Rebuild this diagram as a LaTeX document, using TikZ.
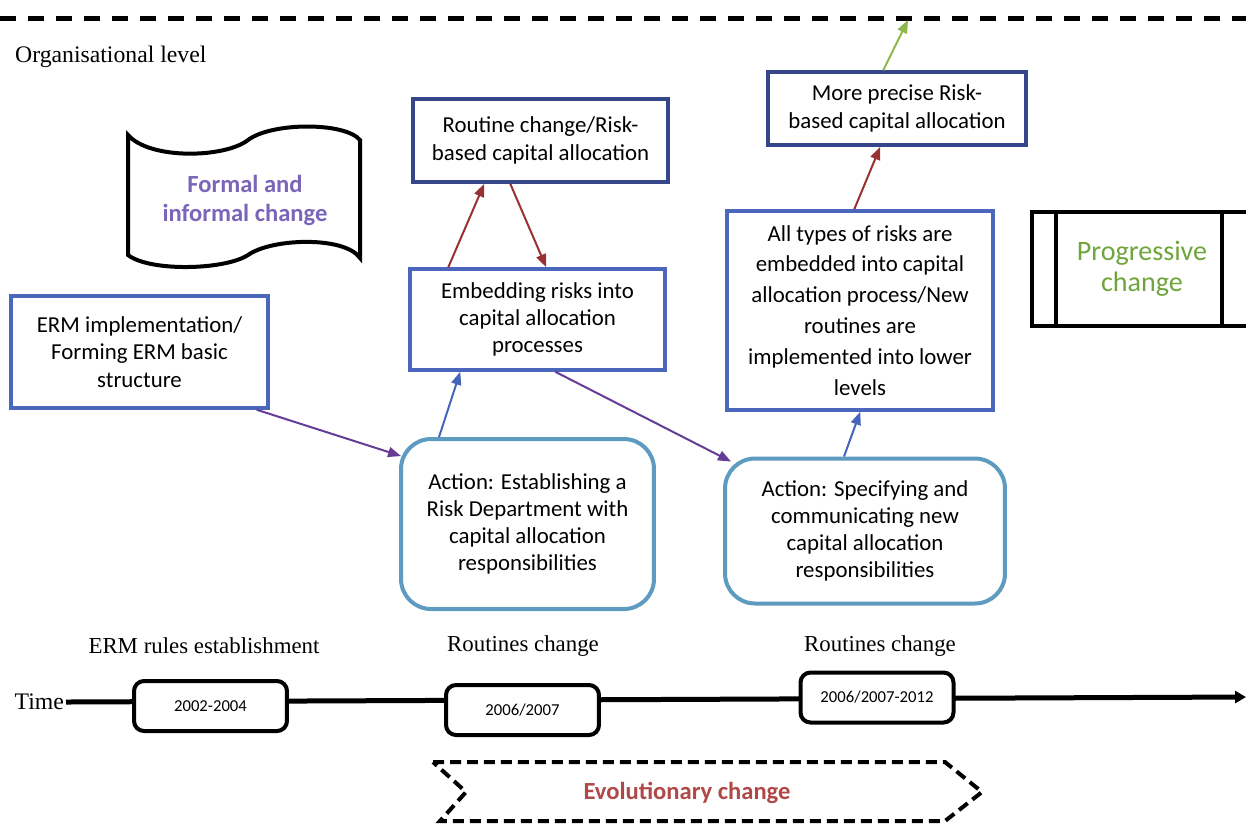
\documentclass[tikz,border=0pt]{standalone}
\usepackage{fontspec}
\setmainfont{Carlito}
\newfontfamily\timesfont{Liberation Serif}
\usetikzlibrary{arrows.meta}

\definecolor{navy}{HTML}{35478A}
\definecolor{midblue}{HTML}{4A66BD}
\definecolor{steel}{HTML}{5E9BC0}
\definecolor{arrred}{HTML}{983232}
\definecolor{arrpurple}{HTML}{653D97}
\definecolor{arrblue}{HTML}{4565BD}
\definecolor{arrgreen}{HTML}{8DB84A}
\definecolor{txtpurple}{HTML}{7A66B8}
\definecolor{txtgreen}{HTML}{6FA53C}
\definecolor{txtred}{HTML}{B04848}

\begin{document}
\begin{tikzpicture}[x=0.02cm, y=-0.02cm, >={Triangle[length=0.26cm,width=0.2cm]},
  box/.style={draw=midblue, line width=0.07cm, fill=white, align=center, inner sep=0pt,
    font=\fontsize{13}{15.5}\selectfont},
  topbox/.style={box, draw=navy},
  action/.style={box, draw=steel, line width=0.08cm, rounded corners=0.6cm},
  datebox/.style={draw=black, line width=0.08cm, rounded corners=0.2cm, fill=white,
    minimum width=3.06cm, minimum height=1cm, font=\fontsize{9.5}{11}\selectfont},
  lbl/.style={font=\timesfont\fontsize{13}{16}\selectfont},
  link/.style={->, line width=0.04cm}]
\useasboundingbox (0,0) rectangle (1246,823);
\fill[white] (0,0) rectangle (1246,823);
% Organisational level
\draw[line width=0.1cm, dash pattern=on 0.32cm off 0.24cm] (0,18) -- (1246,18);
\coordinate (lvl) at (908,20);
\node[lbl, anchor=west, font=\timesfont\fontsize{13.5}{16}\selectfont] (orglvl) at (9,57) {Organisational level};
% Formal and informal change
\draw[line width=0.08cm, fill=white] (128,135) .. controls (150,160) and (225,158) .. (248,140)
  .. controls (272,122) and (345,122) .. (360,140) -- (360,258)
  .. controls (345,236) and (272,238) .. (248,255)
  .. controls (225,270) and (150,272) .. (128,255) -- cycle;
\node[align=center, text=txtpurple, font=\bfseries\fontsize{14}{16.5}\selectfont] (flagtxt) at (245,200)
  {Formal and\\informal change};
% Boxes
\node[box, minimum width=5.14cm, minimum height=2.24cm] (erm) at (139.5,352)
  {ERM implementation/\\Forming ERM basic\\structure};
\node[topbox, minimum width=5.10cm, minimum height=1.66cm] (routine) at (540.5,140.5)
  {Routine change/Risk-\\based capital allocation};
\node[box, minimum width=5.10cm, minimum height=2.02cm] (embed) at (537.5,319.5)
  {Embedding risks into\\capital allocation\\processes};
\node[topbox, minimum width=5.16cm, minimum height=1.46cm] (precise) at (897,108.5)
  {More precise Risk-\\based capital allocation};
\node[box, minimum width=5.32cm, minimum height=3.98cm, font=\fontsize{13}{17.6}\selectfont] (alltypes) at (860,310.5)
  {All types of risks are\\embedded into capital\\allocation process/New\\routines are\\implemented into lower\\levels};
\node[action, minimum width=5.06cm, minimum height=3.40cm] (action1) at (527.5,524)
  {Action: Establishing a\\Risk Department with\\capital allocation\\responsibilities};
\node[action, minimum width=5.60cm, minimum height=2.90cm] (action2) at (865,531)
  {Action: Specifying and\\communicating new\\capital allocation\\responsibilities};
% Progressive change
\node[draw, line width=0.08cm, minimum width=4.40cm, minimum height=2.28cm, align=center,
  text=txtgreen, font=\fontsize{16}{17.6}\selectfont] (prog) at (1142,269) {Progressive\\change};
\draw[line width=0.08cm] ([xshift=0.52cm]prog.north west) -- ([xshift=0.52cm]prog.south west);
\draw[line width=0.08cm] ([xshift=3.84cm]prog.north west) -- ([xshift=3.84cm]prog.south west);
% Arrows
\draw[link, arrpurple] ([xshift=-0.26cm]erm.south east) -- ([xshift=0.04cm,yshift=-0.38cm]action1.north west);
\draw[link, arrblue] ([xshift=0.8cm]action1.north west) -- ([xshift=1.04cm]embed.south west);
\draw[link, arrred] ([xshift=0.8cm]embed.north west) -- ([xshift=1.46cm]routine.south west);
\draw[link, arrred] ([xshift=1.98cm]routine.south west) -- ([xshift=2.76cm]embed.north west);
\draw[link, arrpurple] ([xshift=2.94cm]embed.south west) -- ([xshift=0.16cm,yshift=-0.1cm]action2.north west);
\draw[link, arrblue] ([xshift=2.42cm]action2.north west) -- ([xshift=2.7cm]alltypes.south west);
\draw[link, arrred] ([xshift=2.58cm]alltypes.north west) -- ([xshift=2.28cm]precise.south west);
\draw[link, arrgreen] ([xshift=2.34cm]precise.north west) -- (lvl);
% Time line
\node[lbl] (erm rules) at (204,646) {ERM rules establishment};
\node[lbl] (routines1) at (523,646) {Routines change};
\node[lbl] (routines2) at (880,646) {Routines change};
\node[lbl, anchor=east, inner sep=1pt, font=\timesfont\fontsize{13.5}{16}\selectfont] (time) at (66,702) {Time};
\coordinate (tend) at (1246,697);
\draw[line width=0.1cm, -{Triangle[length=0.22cm,width=0.24cm]}] (time.east) -- (tend);
\node[datebox] (d1) at (210.5,706) {2002-2004};
\node[datebox] (d2) at (522.5,710) {2006/2007};
\node[datebox] (d3) at (877,697.5) {2006/2007-2012};
% Evolutionary change
\draw[line width=0.08cm, dash pattern=on 0.22cm off 0.12cm]
  (433,762) -- (945,762) -- (982,792) -- (945,821) -- (440,821) -- (466,792) -- cycle;
\node[text=txtred, font=\bfseries\fontsize{14}{16.5}\selectfont] (evol) at (687,793) {Evolutionary change};
\end{tikzpicture}
\end{document}
